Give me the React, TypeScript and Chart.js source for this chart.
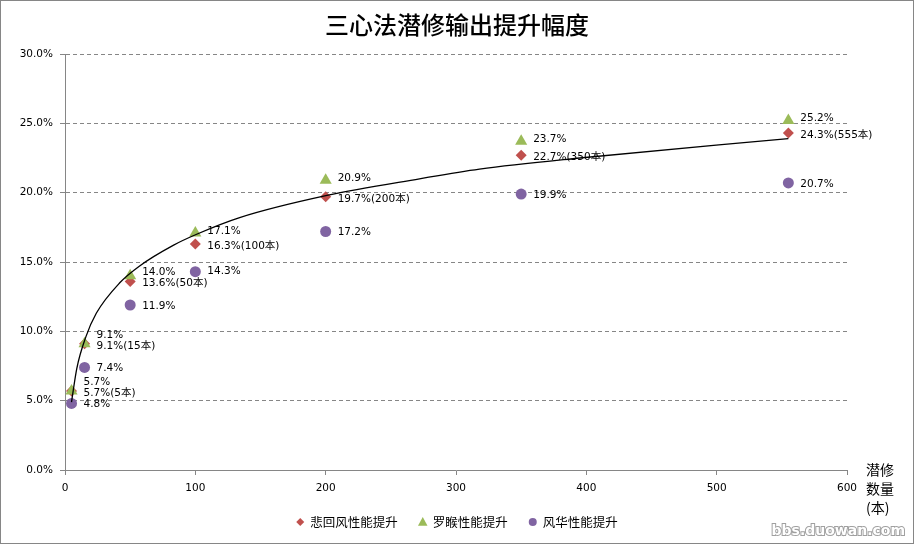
import React, { useEffect, useRef } from "react";
import { Chart, registerables } from "chart.js";

Chart.register(...registerables);

// ---- data ----
const booksX = [5, 15, 50, 100, 200, 350, 555];
const beihuifeng = [5.7, 9.1, 13.6, 16.3, 19.7, 22.7, 24.3];
const luohou = [5.7, 9.1, 14.0, 17.1, 20.9, 23.7, 25.2];
const fenghua = [4.8, 7.4, 11.9, 14.3, 17.2, 19.9, 20.7];
// trendline
const trendX = [5, 9, 16, 24, 42, 57, 83, 101, 134, 201, 272, 318, 395, 555];
const trendY = [4.9, 7.3, 9.6, 11.3, 13.5, 14.7, 16.2, 17.0, 18.2, 19.8, 21.0, 21.7, 22.5, 23.9];
const seriesNames = ["悲回风性能提升", "罗睺性能提升", "风华性能提升"];
const titleText = "三心法潜修输出提升幅度";
const axisTitleLines = ["潜修", "数量", "(本)"];
const yTicks = [0, 5, 10, 15, 20, 25, 30];
const xTicks = [0, 100, 200, 300, 400, 500, 600];
const watermark = "bbs.duowan.com";

const RED = "#C0504D";
const GREEN = "#9BBB59";
const PURPLE = "#8064A2";
const AXIS = "#868686";
const LABEL_FONT = '10.5px "DejaVu Sans", "Noto Sans CJK SC", sans-serif';

function drawMarker(ctx: CanvasRenderingContext2D, style: string, x: number, y: number, r: number, color: string) {
  ctx.save();
  ctx.fillStyle = color;
  ctx.beginPath();
  if (style === "rectRot") {
    ctx.moveTo(x, y - r);
    ctx.lineTo(x + r, y);
    ctx.lineTo(x, y + r);
    ctx.lineTo(x - r, y);
  } else if (style === "triangle") {
    ctx.moveTo(x, y - r);
    ctx.lineTo(x + r * 0.95, y + r * 0.75);
    ctx.lineTo(x - r * 0.95, y + r * 0.75);
  } else {
    ctx.arc(x, y, r, 0, Math.PI * 2);
  }
  ctx.closePath();
  ctx.fill();
  ctx.restore();
}

const decorPlugin = {
  id: "decor",
  beforeDatasetsDraw(chart: any) {
    const ctx: CanvasRenderingContext2D = chart.ctx;
    ctx.save();
    ctx.font = LABEL_FONT;
    ctx.fillStyle = "#000";
    ctx.textBaseline = "middle";
    ctx.textAlign = "left";
    const placed: { x1: number; y1: number; x2: number; y2: number }[] = [];
    const h = 11;
    chart.data.datasets.forEach((ds: any, di: number) => {
      if (!ds.labelMode) return;
      const meta = chart.getDatasetMeta(di);
      meta.data.forEach((pt: any, i: number) => {
        const v = ds.data[i];
        let text = v.y.toFixed(1) + "%";
        if (ds.labelMode === "books") text += "(" + v.x + "本)";
        const w = ctx.measureText(text).width;
        const x = pt.x + 12;
        let y = pt.y + ds.labelDy;
        const overlaps = (yy: number) =>
          placed.some((r) => x < r.x2 && x + w > r.x1 && yy - h / 2 < r.y2 && yy + h / 2 > r.y1);
        let guard = 0;
        while (overlaps(y) && guard < 40) {
          y -= 1;
          guard++;
        }
        placed.push({ x1: x, y1: y - h / 2, x2: x + w, y2: y + h / 2 });
        ctx.fillText(text, x, y);
      });
    });
    ctx.restore();
  },
  afterDraw(chart: any) {
    const ctx: CanvasRenderingContext2D = chart.ctx;
    const W = chart.width;
    const H = chart.height;
    ctx.save();
    // title
    ctx.fillStyle = "#000";
    ctx.font = '500 24px "Noto Sans CJK SC", sans-serif';
    ctx.textAlign = "center";
    ctx.textBaseline = "middle";
    ctx.fillText(titleText, W / 2, 25);

    // axis title at right of x-axis
    ctx.font = '14px "Noto Sans CJK SC", sans-serif';
    ctx.textAlign = "left";
    axisTitleLines.forEach((t, i) => ctx.fillText(t, 866, 470 + i * 19));

    // legend
    ctx.font = '12.5px "Noto Sans CJK SC", sans-serif';
    const scatterSets = chart.data.datasets.filter((d: any) => d.labelMode);
    const items = scatterSets.map((d: any) => ({
      text: d.label,
      style: d.pointStyle,
      color: d.backgroundColor,
      r: d.legendR,
      w: 14 + ctx.measureText(d.label).width,
    }));
    const gap = 21;
    const total = items.reduce((s: number, it: any) => s + it.w, 0) + gap * (items.length - 1);
    let lx = W / 2 - total / 2;
    const ly = 522;
    items.forEach((it: any) => {
      drawMarker(ctx, it.style, lx + 4, ly, it.r, it.color);
      ctx.fillStyle = "#000";
      ctx.textBaseline = "middle";
      ctx.fillText(it.text, lx + 14, ly);
      lx += it.w + gap;
    });

    // watermark
    ctx.font = 'bold 14px "DejaVu Sans", sans-serif';
    ctx.textAlign = "right";
    ctx.lineWidth = 2;
    ctx.strokeStyle = "#a0a0a0";
    ctx.fillStyle = "#ffffff";
    ctx.strokeText(watermark, 905, 531);
    ctx.fillText(watermark, 905, 531);

    // outer border
    ctx.strokeStyle = AXIS;
    ctx.lineWidth = 1;
    ctx.strokeRect(0.5, 0.5, W - 1, H - 1);
    ctx.restore();
  },
};

export default function App() {
  const ref = useRef<HTMLCanvasElement | null>(null);
  useEffect(() => {
    if (!ref.current) return;
    const pts = (ys: number[]) => booksX.map((x, i) => ({ x, y: ys[i] }));
    const chart = new Chart(ref.current, {
      type: "scatter",
      data: {
        datasets: [
          {
            label: seriesNames[0],
            data: pts(beihuifeng),
            pointStyle: "rectRot",
            pointRadius: 5.5,
            backgroundColor: RED,
            borderColor: RED,
            borderWidth: 0,
            order: 2,
            labelMode: "books",
            labelDy: 2,
            legendR: 4,
          } as any,
          {
            label: seriesNames[1],
            data: pts(luohou),
            pointStyle: "triangle",
            pointRadius: 7,
            backgroundColor: GREEN,
            borderColor: GREEN,
            borderWidth: 0,
            order: 1,
            labelMode: "plain",
            labelDy: -2,
            legendR: 5,
          } as any,
          {
            label: seriesNames[2],
            data: pts(fenghua),
            pointStyle: "circle",
            pointRadius: 5.5,
            backgroundColor: PURPLE,
            borderColor: PURPLE,
            borderWidth: 0,
            order: 3,
            labelMode: "plain",
            labelDy: 1,
            legendR: 4,
          } as any,
          {
            label: "trend",
            type: "line",
            data: trendX.map((x, i) => ({ x, y: trendY[i] })),
            borderColor: "#000",
            borderWidth: 1.3,
            pointRadius: 0,
            fill: false,
            cubicInterpolationMode: "monotone",
            order: 0,
          } as any,
        ],
      },
      options: {
        animation: false,
        responsive: false,
        events: [],
        layout: { padding: { top: 54, left: 0, right: 67, bottom: 0 } },
        plugins: {
          legend: { display: false },
          title: { display: false },
          tooltip: { enabled: false },
        },
        scales: {
          x: {
            type: "linear",
            min: 0,
            max: 600,
            afterFit: (s: any) => {
              s.height = 74;
            },
            afterBuildTicks: (s: any) => {
              s.ticks = xTicks.map((v) => ({ value: v }));
            },
            ticks: {
              padding: 7,
              color: "#000",
              font: { family: '"DejaVu Sans"', size: 10.5 },
              maxRotation: 0,
              callback: (v: any) => String(v),
            },
            grid: {
              drawOnChartArea: false,
              drawTicks: true,
              tickLength: 5,
              tickColor: AXIS,
              color: AXIS,
            },
            border: { display: true, color: AXIS, width: 1 },
          },
          y: {
            type: "linear",
            min: 0,
            max: 30,
            afterFit: (s: any) => {
              s.width = 65;
            },
            afterBuildTicks: (s: any) => {
              s.ticks = yTicks.map((v) => ({ value: v }));
            },
            ticks: {
              padding: 7,
              color: "#000",
              font: { family: '"DejaVu Sans"', size: 10.5 },
              callback: (v: any) => Number(v).toFixed(1) + "%",
            },
            grid: {
              drawOnChartArea: true,
              drawTicks: true,
              tickLength: 5,
              color: AXIS,
              tickColor: AXIS,
              tickBorderDash: [],
            } as any,
            border: { display: true, color: AXIS, width: 1, dash: [4, 3] } as any,
          },
        },
      } as any,
      plugins: [decorPlugin],
    });
    return () => chart.destroy();
  }, []);
  return (
    <div style={{ position: "absolute", left: 0, top: 0, width: 914, height: 544, background: "#fff" }}>
      <canvas ref={ref} width={914} height={544} style={{ display: "block", width: 914, height: 544 }} />
    </div>
  );
}
